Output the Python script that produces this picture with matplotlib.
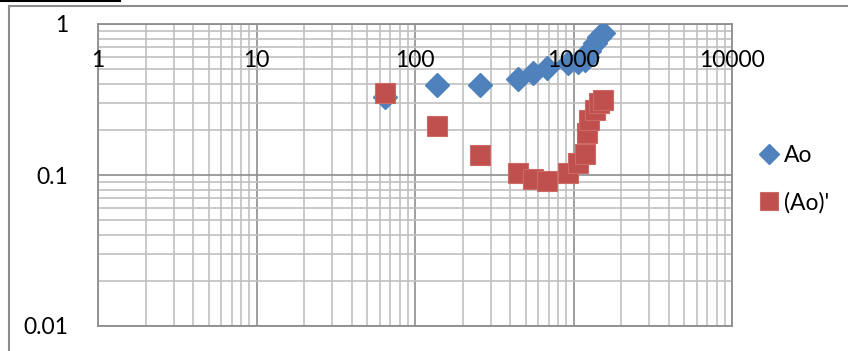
import matplotlib.pyplot as plt
from matplotlib.lines import Line2D
from matplotlib.ticker import LogLocator, FixedFormatter, NullFormatter

# measured points (shared x for both series)
x_vals = [65, 137, 257, 445, 557, 684, 927, 1072, 1180, 1211, 1260, 1360, 1450, 1541]
ao_vals = [0.33, 0.396, 0.396, 0.435, 0.473, 0.51, 0.55, 0.56, 0.58, 0.60, 0.66, 0.75, 0.82, 0.87]
ao_prime_vals = [0.35, 0.212, 0.135, 0.103, 0.094, 0.091, 0.103, 0.12, 0.137, 0.19, 0.232, 0.27, 0.30, 0.316]

x_ticks = [1, 10, 100, 1000, 10000]
x_tick_labels = ["1", "10", "100", "1000", "10000"]
y_ticks = [0.01, 0.1, 1]
y_tick_labels = ["0.01", "0.1", "1"]

BLUE = "#4F81BD"
RED = "#C0504D"
MINOR = "#C0C0C0"
MAJOR = "#8E8E8E"

plt.rcParams['font.family'] = ['Lato', 'DejaVu Sans']

dpi = 100
W, H = 848, 351
fig = plt.figure(figsize=(W / dpi, H / dpi), dpi=dpi)
pos = [98 / W, 25 / H, (732 - 98) / W, (326 - 24) / H]
ax = fig.add_axes(pos)

ax.set_xscale('log')
ax.set_yscale('log')
ax.set_xlim(1, 10000)
ax.set_ylim(0.01, 1)

ax.xaxis.set_minor_locator(LogLocator(base=10, subs=range(2, 10), numticks=20))
ax.yaxis.set_minor_locator(LogLocator(base=10, subs=range(2, 10), numticks=20))
ax.xaxis.set_minor_formatter(NullFormatter())
ax.yaxis.set_minor_formatter(NullFormatter())
ax.set_xticks(x_ticks)
ax.xaxis.set_major_formatter(FixedFormatter(x_tick_labels))
ax.set_yticks(y_ticks)
ax.yaxis.set_major_formatter(FixedFormatter(y_tick_labels))

ax.grid(which='minor', color=MINOR, linewidth=1.2)
ax.grid(which='major', color=MAJOR, linewidth=1.2)
ax.set_axisbelow(True)
for sp in ax.spines.values():
    sp.set_color(MAJOR)
    sp.set_linewidth(1.3)
ax.tick_params(axis='both', which='both', bottom=False, top=False, left=False,
               right=False, labelbottom=False, labelleft=False)

ax.plot(x_vals, ao_vals, linestyle='none', marker='D', markersize=12,
        color=BLUE, markeredgecolor=BLUE, label='Ao', zorder=3)
ax.plot(x_vals, ao_prime_vals, linestyle='none', marker='s', markersize=14.5,
        color=RED, markeredgecolor="#CC6A67", markeredgewidth=0.8,
        label="(Ao)'", zorder=4)

# overlay axes so the tick labels sit on top of the markers
ax_lab = fig.add_axes(pos, sharex=ax, sharey=ax, zorder=ax.get_zorder() + 1)
ax_lab.patch.set_visible(False)
for sp in ax_lab.spines.values():
    sp.set_visible(False)
ax_lab.grid(False, which='both')
# x labels hang just under the top axis line
ax_lab.tick_params(axis='x', which='both', bottom=False, top=False,
                   labelbottom=False, labeltop=True, pad=-37, labelsize=16.5)
ax_lab.tick_params(axis='y', which='both', left=False, right=False,
                   pad=18, labelsize=16.5)

leg = ax.legend(loc='center left', bbox_to_anchor=(735 / W, 1 - 179 / H),
                bbox_transform=fig.transFigure, frameon=False, fontsize=16.5,
                handletextpad=0.05, labelspacing=1.15, handlelength=1.2,
                markerscale=0.85)

# chart frame
fig.add_artist(Line2D([9 / W, 9 / W], [0, 1 - 5.5 / H], transform=fig.transFigure,
                      color="#8C8C8C", linewidth=1.5))
fig.add_artist(Line2D([9 / W, 1], [1 - 5.5 / H, 1 - 5.5 / H], transform=fig.transFigure,
                      color="#8C8C8C", linewidth=1.5))
fig.add_artist(Line2D([0, 120 / W], [1 - 0.8 / H, 1 - 0.8 / H], transform=fig.transFigure,
                      color="black", linewidth=1.5))

fig.savefig("out.png", dpi=dpi)
